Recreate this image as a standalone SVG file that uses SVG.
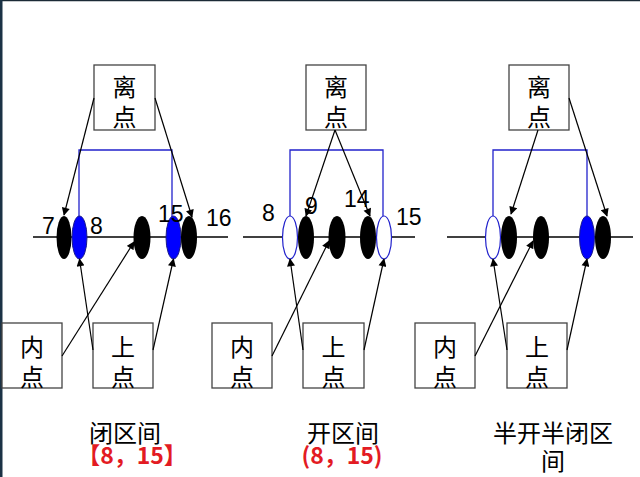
<svg xmlns="http://www.w3.org/2000/svg" width="640" height="477" viewBox="0 0 640 477">
<defs>
<marker id="ah" viewBox="0 0 10 10" refX="9" refY="5" markerWidth="9" markerHeight="8" markerUnits="userSpaceOnUse" orient="auto">
<path d="M0,0 L10,5 L0,10 z" fill="#000"/>
</marker>
<style>
.box{fill:#fff;stroke:#444;stroke-width:1.3}
.cj{font-family:"Noto Sans CJK SC","Noto Sans",sans-serif;font-size:24px;fill:#000;text-anchor:middle}
.cap{font-family:"Noto Sans CJK SC","Noto Sans",sans-serif;font-size:24px;fill:#000;text-anchor:middle}
.red{font-family:"Noto Sans CJK SC","Noto Sans",sans-serif;font-size:23px;font-weight:bold;fill:#e31b23;text-anchor:middle}
.num{font-family:"Liberation Sans",Arial,sans-serif;font-size:23px;fill:#000}
.blk{fill:#000}
.blu{fill:#0000ff;stroke:#1a1a8a;stroke-width:1}
.opn{fill:#fff;stroke:#2222cc;stroke-width:1.2}
.axis{stroke:#000;stroke-width:1.3}
.br{fill:none;stroke:#2222cc;stroke-width:1.3}
.ar{stroke:#000;stroke-width:1.2;marker-end:url(#ah)}
</style>
</defs>
<rect x="0" y="0" width="640" height="477" fill="#fff"/>
<line x1="0" y1="0.5" x2="640" y2="0.5" stroke="#1b2a36" stroke-width="1.5"/>
<rect x="0" y="0" width="2.5" height="477" fill="#1b3245"/>

<!-- Panel 1 -->
<g id="axis1"><line class="axis" x1="33" y1="237" x2="228" y2="237"/></g>
<g id="bracket1"><polyline class="br" points="79,217 79,150 172,150 172,217"/></g>
<g id="pts1">
<ellipse class="blk" cx="64" cy="237.5" rx="7.5" ry="21.5"/>
<ellipse class="blu" cx="79.5" cy="237.5" rx="7.5" ry="21.5"/>
<ellipse class="blk" cx="142" cy="237.5" rx="8.5" ry="21.5"/>
<ellipse class="blu" cx="173.5" cy="237.5" rx="7.5" ry="21.5"/>
<ellipse class="blk" cx="189" cy="237.5" rx="8" ry="21.5"/>
</g>
<g id="labels1">
<text class="num" x="42" y="234">7</text>
<text class="num" x="90" y="234">8</text>
<text class="num" x="158" y="222">15</text>
<text class="num" x="206" y="226">16</text>
</g>
<g id="lidian1"><rect class="box" x="94" y="65" width="61" height="65"/><text class="cj" x="124.5" y="96">离</text><text class="cj" x="124.5" y="126">点</text></g>
<g id="neidian1"><rect class="box" x="2" y="323" width="60" height="65"/><text class="cj" x="32" y="356">内</text><text class="cj" x="32" y="386">点</text></g>
<g id="shangdian1"><rect class="box" x="93" y="323" width="60" height="65"/><text class="cj" x="123" y="356">上</text><text class="cj" x="123" y="386">点</text></g>
<text class="cap" x="125" y="442">闭区间</text>
<text class="red" x="132" y="464">【8，15】</text>

<!-- Panel 2 -->
<g id="axis2"><line class="axis" x1="243" y1="237" x2="415" y2="237"/></g>
<g id="bracket2"><polyline class="br" points="290,217 290,150 383,150 383,217"/></g>
<g id="pts2">
<ellipse class="opn" cx="290" cy="237.5" rx="7.5" ry="21.5"/>
<ellipse class="blk" cx="306" cy="237.5" rx="8" ry="21.5"/>
<ellipse class="blk" cx="337" cy="237.5" rx="8.5" ry="21.5"/>
<ellipse class="blk" cx="368" cy="237.5" rx="8" ry="21.5"/>
<ellipse class="opn" cx="384" cy="237.5" rx="7.5" ry="21.5"/>
</g>
<g id="labels2">
<text class="num" x="262" y="221">8</text>
<text class="num" x="305" y="214">9</text>
<text class="num" x="344" y="207">14</text>
<text class="num" x="396" y="225">15</text>
</g>
<g id="lidian2"><rect class="box" x="306" y="65" width="60" height="65"/><text class="cj" x="336" y="96">离</text><text class="cj" x="336" y="126">点</text></g>
<g id="neidian2"><rect class="box" x="212" y="323" width="60" height="65"/><text class="cj" x="242" y="356">内</text><text class="cj" x="242" y="386">点</text></g>
<g id="shangdian2"><rect class="box" x="303" y="323" width="61" height="65"/><text class="cj" x="333.5" y="356">上</text><text class="cj" x="333.5" y="386">点</text></g>
<text class="cap" x="343" y="442">开区间</text>
<text class="red" x="342" y="464">(8，15)</text>

<!-- Panel 3 -->
<g id="axis3"><line class="axis" x1="447" y1="237" x2="633" y2="237"/></g>
<g id="bracket3"><polyline class="br" points="493,217 493,150 587,150 587,217"/></g>
<g id="pts3">
<ellipse class="opn" cx="493" cy="237.5" rx="7.5" ry="21.5"/>
<ellipse class="blk" cx="509" cy="237.5" rx="8" ry="21.5"/>
<ellipse class="blk" cx="541" cy="237.5" rx="8" ry="21.5"/>
<ellipse class="blu" cx="587" cy="237.5" rx="7.5" ry="21.5"/>
<ellipse class="blk" cx="603" cy="237.5" rx="8" ry="21.5"/>
</g>
<g id="lidian3"><rect class="box" x="509" y="65" width="60" height="65"/><text class="cj" x="539" y="96">离</text><text class="cj" x="539" y="126">点</text></g>
<g id="neidian3"><rect class="box" x="415" y="323" width="60" height="65"/><text class="cj" x="445" y="356">内</text><text class="cj" x="445" y="386">点</text></g>
<g id="shangdian3"><rect class="box" x="507" y="323" width="60" height="65"/><text class="cj" x="537" y="356">上</text><text class="cj" x="537" y="386">点</text></g>
<text class="cap" x="553" y="442">半开半闭区</text>
<text class="cap" x="553" y="470">间</text>

<!-- Connectors -->
<g id="connectors">
<line class="ar" x1="94" y1="98" x2="64" y2="215"/>
<line class="ar" x1="155" y1="98" x2="192" y2="217"/>
<line class="ar" x1="62" y1="356" x2="134" y2="242"/>
<line class="ar" x1="93" y1="350" x2="79.5" y2="259"/>
<line class="ar" x1="153" y1="350" x2="173.5" y2="259"/>

<line class="ar" x1="335" y1="130" x2="306" y2="216"/>
<line class="ar" x1="335" y1="130" x2="370" y2="216"/>
<line class="ar" x1="272" y1="356" x2="329" y2="241"/>
<line class="ar" x1="303" y1="350" x2="290" y2="259"/>
<line class="ar" x1="364" y1="350" x2="384" y2="259"/>

<line class="ar" x1="538" y1="130" x2="511" y2="214"/>
<line class="ar" x1="569" y1="98" x2="607" y2="216"/>
<line class="ar" x1="475" y1="356" x2="533" y2="241"/>
<line class="ar" x1="507" y1="350" x2="493" y2="259"/>
<line class="ar" x1="567" y1="350" x2="587" y2="259"/>
</g>
</svg>
